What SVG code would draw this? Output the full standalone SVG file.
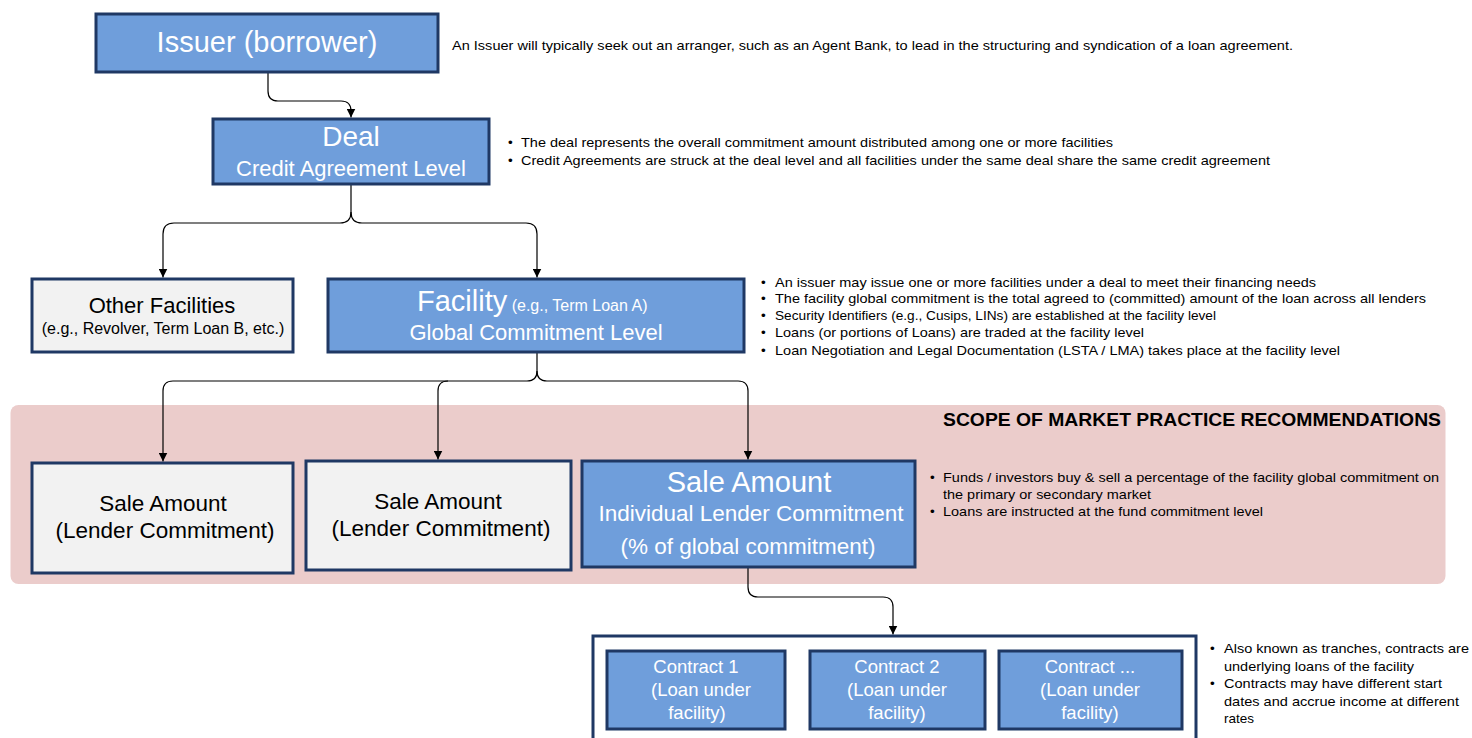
<svg xmlns="http://www.w3.org/2000/svg" width="1472" height="738" viewBox="0 0 1472 738">
<defs>
<style>
.blue{fill:#6F9EDB;stroke:#1F3864;stroke-width:3}
.gray{fill:#F2F2F2;stroke:#1F3864;stroke-width:3}
.wt{font-family:"Liberation Sans",Arial,sans-serif;fill:#FFFFFF;text-anchor:middle}
.bt{font-family:"Liberation Sans",Arial,sans-serif;fill:#000000;text-anchor:middle}
.note{font-family:"Liberation Sans",Arial,sans-serif;fill:#000000;font-size:13.5px}
.conn{fill:none;stroke:#000000;stroke-width:1.2}
</style>
<marker id="arr" viewBox="0 0 10 10" refX="10" refY="5" markerWidth="9" markerHeight="9" markerUnits="userSpaceOnUse" orient="auto">
<path d="M0,0 L10,5 L0,10 z" fill="#000000"/>
</marker>
</defs>
<rect width="1472" height="738" fill="#FFFFFF"/>

<g id="scope">
<rect x="10.5" y="405" width="1435" height="179" rx="8" fill="#EBCCCB"/>
<text x="1441" y="426" font-family="Liberation Sans,Arial,sans-serif" font-weight="bold" font-size="18.5" text-anchor="end" textLength="498" lengthAdjust="spacingAndGlyphs">SCOPE OF MARKET PRACTICE RECOMMENDATIONS</text>
</g>

<g id="connectors">
<path class="conn" d="M268,73 V91 Q268,101 278,101 H341 Q351,101 351,111 V117.5" marker-end="url(#arr)"/>
<path class="conn" d="M351,185 V212 Q351,223 340,223 H174 Q163,223 163,234 V277.5" marker-end="url(#arr)"/>
<path class="conn" d="M351,212 Q351,223 362,223 H526 Q537,223 537,234 V277.5" marker-end="url(#arr)"/>
<path class="conn" d="M537,353 V371 Q537,381 527,381 H173 Q163,381 163,391 V461.5" marker-end="url(#arr)"/>
<path class="conn" d="M448,381 Q438,381 438,391 V459.5" marker-end="url(#arr)"/>
<path class="conn" d="M537,371 Q537,381 547,381 H738 Q748,381 748,391 V459.5" marker-end="url(#arr)"/>
<path class="conn" d="M748,568 V587 Q748,597 758,597 H883 Q893,597 893,607 V634.5" marker-end="url(#arr)"/>
</g>

<g id="issuer">
<rect class="blue" x="96" y="14" width="342" height="58"/>
<text class="wt" x="267" y="52" font-size="29">Issuer (borrower)</text>
</g>
<g id="issuer-note">
<text class="note" x="452" y="50" textLength="841" lengthAdjust="spacingAndGlyphs">An Issuer will typically seek out an arranger, such as an Agent Bank, to lead in the structuring and syndication of a loan agreement.</text>
</g>

<g id="deal">
<rect class="blue" x="213" y="119" width="276" height="65"/>
<text class="wt" x="351" y="146" font-size="28">Deal</text>
<text class="wt" x="351" y="176" font-size="22">Credit Agreement Level</text>
</g>
<g id="deal-note">
<text class="note" x="508" y="146.5">•</text>
<text class="note" x="521" y="146.5" textLength="592" lengthAdjust="spacingAndGlyphs">The deal represents the overall commitment amount distributed among one or more facilities</text>
<text class="note" x="508" y="164.5">•</text>
<text class="note" x="521" y="164.5" textLength="749" lengthAdjust="spacingAndGlyphs">Credit Agreements are struck at the deal level and all facilities under the same deal share the same credit agreement</text>
</g>

<g id="other-facilities">
<rect class="gray" x="32" y="279" width="261" height="73"/>
<text class="bt" x="162" y="313" font-size="22">Other Facilities</text>
<text class="bt" x="163" y="334" font-size="16">(e.g., Revolver, Term Loan B, etc.)</text>
</g>

<g id="facility">
<rect class="blue" x="328" y="279" width="416" height="73"/>
<text x="417" y="311" font-family="Liberation Sans,Arial,sans-serif" fill="#FFFFFF" font-size="29">Facility<tspan font-size="16"> (e.g., Term Loan A)</tspan></text>
<text class="wt" x="536" y="340" font-size="22">Global Commitment Level</text>
</g>
<g id="facility-note">
<text class="note" x="761" y="286.5">•</text>
<text class="note" x="775" y="286.5" textLength="541" lengthAdjust="spacingAndGlyphs">An issuer may issue one or more facilities under a deal to meet their financing needs</text>
<text class="note" x="761" y="303">•</text>
<text class="note" x="775" y="303" textLength="651" lengthAdjust="spacingAndGlyphs">The facility global commitment is the total agreed to (committed) amount of the loan across all lenders</text>
<text class="note" x="761" y="320">•</text>
<text class="note" x="775" y="320" textLength="441" lengthAdjust="spacingAndGlyphs">Security Identifiers (e.g., Cusips, LINs) are established at the facility level</text>
<text class="note" x="761" y="337">•</text>
<text class="note" x="775" y="337" textLength="369" lengthAdjust="spacingAndGlyphs">Loans (or portions of Loans) are traded at the facility level</text>
<text class="note" x="761" y="355">•</text>
<text class="note" x="775" y="355" textLength="565" lengthAdjust="spacingAndGlyphs">Loan Negotiation and Legal Documentation (LSTA / LMA) takes place at the facility level</text>
</g>

<g id="sale-1">
<rect class="gray" x="32" y="463" width="261" height="110"/>
<text class="bt" x="163" y="511" font-size="22.5">Sale Amount</text>
<text class="bt" x="165" y="538" font-size="22.5">(Lender Commitment)</text>
</g>
<g id="sale-2">
<rect class="gray" x="306" y="461" width="265" height="109"/>
<text class="bt" x="438" y="509" font-size="22.5">Sale Amount</text>
<text class="bt" x="441" y="536" font-size="22.5">(Lender Commitment)</text>
</g>
<g id="sale-3">
<rect class="blue" x="582" y="461" width="333" height="106"/>
<text class="wt" x="749" y="492" font-size="29">Sale Amount</text>
<text class="wt" x="751" y="521" font-size="22.5">Individual Lender Commitment</text>
<text class="wt" x="748" y="554" font-size="22.5">(% of global commitment)</text>
</g>
<g id="sale-note">
<text class="note" x="930" y="481.5">•</text>
<text class="note" x="943" y="481.5" textLength="496" lengthAdjust="spacingAndGlyphs">Funds / investors buy &amp; sell a percentage of the facility global commitment on</text>
<text class="note" x="943" y="499" textLength="208" lengthAdjust="spacingAndGlyphs">the primary or secondary market</text>
<text class="note" x="930" y="516">•</text>
<text class="note" x="943" y="516" textLength="320" lengthAdjust="spacingAndGlyphs">Loans are instructed at the fund commitment level</text>
</g>

<g id="contracts">
<rect x="593" y="636" width="603" height="112" fill="#FFFFFF" stroke="#1F3864" stroke-width="3"/>
</g>
<g id="contract-1">
<rect class="blue" x="607" y="651" width="178" height="78"/>
<text class="wt" x="696" y="673" font-size="18.5">Contract 1</text>
<text class="wt" x="701" y="696" font-size="18.5">(Loan under</text>
<text class="wt" x="697" y="719" font-size="18.5">facility)</text>
</g>
<g id="contract-2">
<rect class="blue" x="810" y="651" width="175" height="78"/>
<text class="wt" x="897" y="673" font-size="18.5">Contract 2</text>
<text class="wt" x="897" y="696" font-size="18.5">(Loan under</text>
<text class="wt" x="897" y="719" font-size="18.5">facility)</text>
</g>
<g id="contract-3">
<rect class="blue" x="999" y="651" width="183" height="78"/>
<text class="wt" x="1090" y="673" font-size="18.5">Contract ...</text>
<text class="wt" x="1090" y="696" font-size="18.5">(Loan under</text>
<text class="wt" x="1090" y="719" font-size="18.5">facility)</text>
</g>
<g id="contract-note">
<text class="note" x="1210" y="653">•</text>
<text class="note" x="1224" y="653" textLength="245" lengthAdjust="spacingAndGlyphs">Also known as tranches, contracts are</text>
<text class="note" x="1224" y="670.5" textLength="190" lengthAdjust="spacingAndGlyphs">underlying loans of the facility</text>
<text class="note" x="1210" y="688">•</text>
<text class="note" x="1224" y="688" textLength="218" lengthAdjust="spacingAndGlyphs">Contracts may have different start</text>
<text class="note" x="1224" y="705.5" textLength="235" lengthAdjust="spacingAndGlyphs">dates and accrue income at different</text>
<text class="note" x="1224" y="722.5">rates</text>
</g>
</svg>
